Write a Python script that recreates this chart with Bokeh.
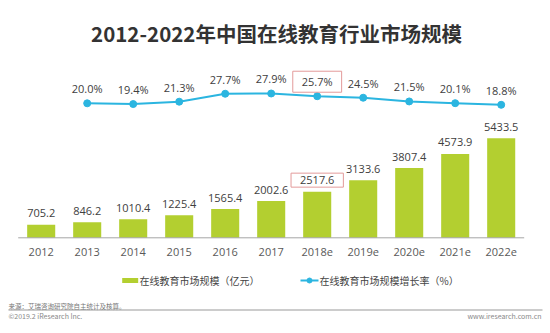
from bokeh.plotting import figure
from bokeh.models import Range1d, ColumnDataSource
from bokeh.core.properties import value
from bokeh.embed import file_html
from bokeh.resources import INLINE

# ---------------- data ----------------
title = "2012-2022年中国在线教育行业市场规模"
categories = ["2012", "2013", "2014", "2015", "2016", "2017",
              "2018e", "2019e", "2020e", "2021e", "2022e"]
market_size = [705.2, 846.2, 1010.4, 1225.4, 1565.4, 2002.6,
               2517.6, 3133.6, 3807.4, 4573.9, 5433.5]
growth_rate = [20.0, 19.4, 21.3, 27.7, 27.9, 25.7, 24.5, 21.5, 20.1, 18.8]
rate_categories = categories[1:]
highlighted = ["2018e"]
legend_bar = "在线教育市场规模（亿元）"
legend_line = "在线教育市场规模增长率（%）"
source_note = "来源：艾瑞咨询研究院自主统计及核算。"
copyright_note = "©2019.2 iResearch Inc."
site_note = "www.iresearch.com.cn"

# ---------------- layout constants ----------------
W, H = 550, 333
X0, DX = 40.7, 46.0            # px centre of first category, spacing
BASE_Y = 237.3                 # px baseline of bars (from top)
K_BAR = 0.01833                # px per unit
RATE_ZERO_Y = 127.65           # px position of 0% (from top)
K_RATE = 1.242                 # px per %

BAR_COLOR = "#b3cf30"
LINE_COLOR = "#2bb5e0"
BOX_COLOR = "#e39a9a"
FONT = "Noto Sans CJK SC"
NUM_FONT = "Open Sans"
BOX_PAD = dict(left=9, right=9, top=3, bottom=3)

x_range = Range1d(-X0 / DX, (W - X0) / DX)
b_from_bottom = H - BASE_Y
y_range = Range1d(-b_from_bottom / K_BAR, (H - b_from_bottom) / K_BAR)
r_from_bottom = H - RATE_ZERO_Y
rate_range = Range1d(-r_from_bottom / K_RATE, (H - r_from_bottom) / K_RATE)

p = figure(width=W, height=H, x_range=x_range, y_range=y_range,
           x_axis_type=None, y_axis_type=None, min_border=0,
           toolbar_location=None, output_backend="svg",
           outline_line_color=None, background_fill_color="white",
           border_fill_color="white")
p.grid.visible = False
p.extra_y_ranges = {"rate": rate_range, "py": Range1d(H, 0)}
p.extra_x_ranges = {"px": Range1d(0, W)}

idx = list(range(len(categories)))
ridx = [categories.index(c) for c in rate_categories]

bar_src = ColumnDataSource(dict(
    x=idx, top=market_size, cat=categories,
    label=[f"{v:.1f}" for v in market_size],
    box=[1.0 if c in highlighted else 0.0 for c in categories]))
rate_src = ColumnDataSource(dict(
    x=ridx, y=growth_rate,
    label=[f"{v:.1f}%" for v in growth_rate],
    box=[1.0 if c in highlighted else 0.0 for c in rate_categories]))

# bars
p.vbar(x="x", top="top", width=0.61, bottom=0, source=bar_src,
       fill_color=BAR_COLOR, line_color=None)
# baseline axis
p.segment(x0=-0.5, x1=len(categories) - 0.5, y0=0, y1=0,
          line_color="#a6a6a6", line_width=1)
# tick labels
p.text(x="x", y=0, text="cat", source=bar_src, y_offset=14.4,
       text_align="center", text_baseline="middle",
       text_font=value(NUM_FONT), text_font_size="11px", text_color="#595959")
# bar value labels
p.text(x="x", y="top", text="label", source=bar_src, y_offset=-11.5,
       text_align="center", text_baseline="middle",
       text_font=value(NUM_FONT), text_font_size="11px", text_color="#404040",
       border_line_color=BOX_COLOR, border_line_alpha="box", border_line_width=1,
       padding=BOX_PAD)

# growth line
p.line(x="x", y="y", source=rate_src, y_range_name="rate",
       line_color=LINE_COLOR, line_width=2)
p.scatter(x="x", y="y", source=rate_src, y_range_name="rate", size=7,
          fill_color=LINE_COLOR, line_color=LINE_COLOR)
p.text(x="x", y="y", text="label", source=rate_src, y_range_name="rate",
       y_offset=-14.5, text_align="center", text_baseline="middle",
       text_font=value(NUM_FONT), text_font_size="11px", text_color="#404040",
       border_line_color=BOX_COLOR, border_line_alpha="box", border_line_width=1,
       padding=BOX_PAD)

# title
p.text(x=[276], y=[32.5], text=[title], x_range_name="px", y_range_name="py",
       text_align="center", text_baseline="middle", text_font=value(FONT),
       text_font_size="20.5px", text_font_style="bold", text_color="#333333")

# legend
p.rect(x=[129.7], y=[280], width=[16], height=[5], x_range_name="px",
       y_range_name="py", fill_color=BAR_COLOR, line_color=None)
p.text(x=[139], y=[280], text=[legend_bar], x_range_name="px", y_range_name="py",
       text_align="left", text_baseline="middle", text_font=value(FONT),
       text_font_size="10px", text_color="#444444")
p.segment(x0=[300], x1=[318], y0=[280], y1=[280], x_range_name="px",
          y_range_name="py", line_color=LINE_COLOR, line_width=2)
p.scatter(x=[309], y=[280], size=5, x_range_name="px", y_range_name="py",
          fill_color=LINE_COLOR, line_color=LINE_COLOR)
p.text(x=[319], y=[280], text=[legend_line], x_range_name="px", y_range_name="py",
       text_align="left", text_baseline="middle", text_font=value(FONT),
       text_font_size="10px", text_color="#444444")

# footer
p.text(x=[8], y=[305], text=[source_note], x_range_name="px", y_range_name="py",
       text_align="left", text_baseline="middle", text_font=value(FONT),
       text_font_size="6.5px", text_color="#777777")
p.segment(x0=[8], x1=[542], y0=[309.5], y1=[309.5], x_range_name="px",
          y_range_name="py", line_color="#999999", line_width=1)
p.text(x=[8], y=[315.5], text=[copyright_note], x_range_name="px", y_range_name="py",
       text_align="left", text_baseline="middle", text_font=value(FONT),
       text_font_size="7px", text_color="#888888")
p.text(x=[541], y=[315.5], text=[site_note], x_range_name="px", y_range_name="py",
       text_align="right", text_baseline="middle", text_font=value(FONT),
       text_font_size="7px", text_color="#888888")

open("out.html", "w").write(file_html(p, INLINE))
